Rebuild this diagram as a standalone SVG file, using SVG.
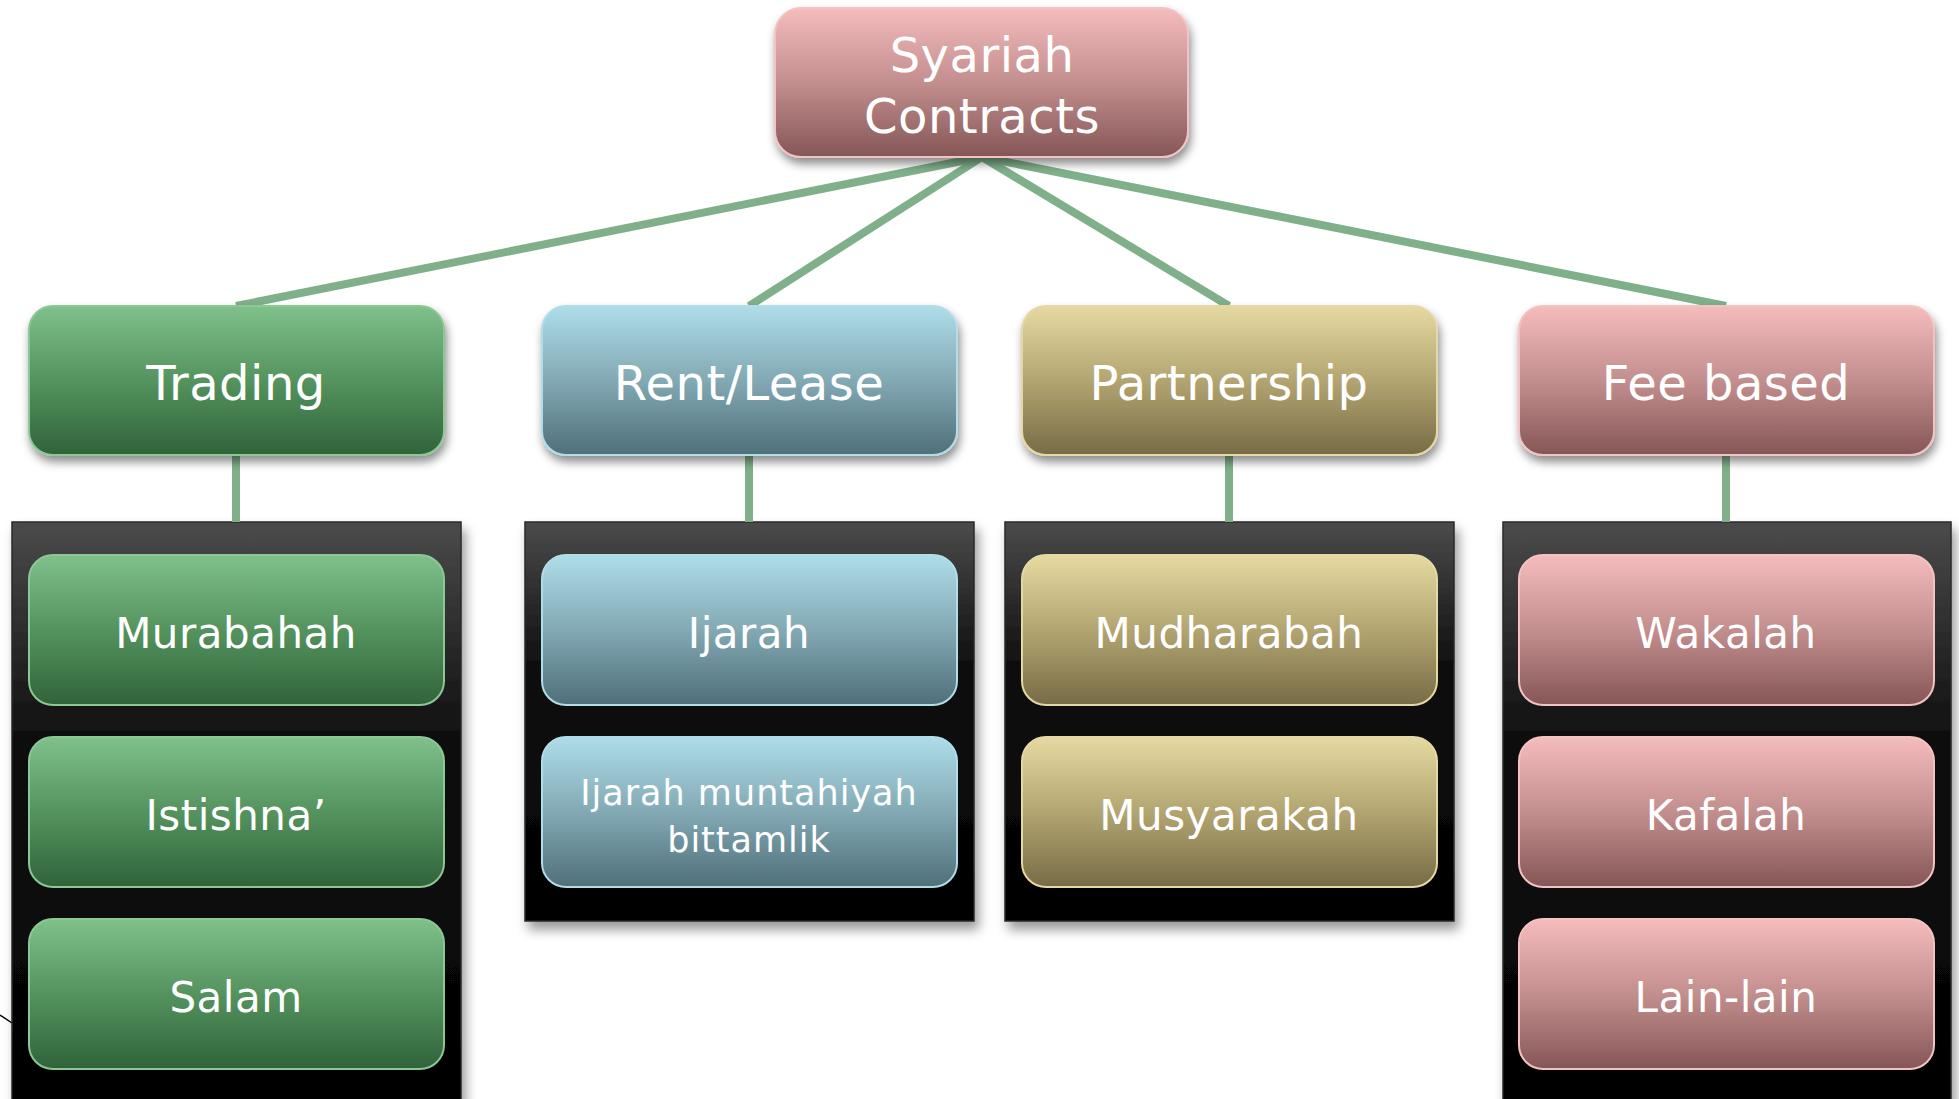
<svg xmlns="http://www.w3.org/2000/svg" width="1959" height="1099" viewBox="0 0 1959 1099">
<defs>
<linearGradient id="gPink" x1="0" y1="0" x2="0" y2="1"><stop offset="0" stop-color="#f5bcbc"/><stop offset="0.5" stop-color="#c38e8e"/><stop offset="1" stop-color="#855656"/></linearGradient>
<linearGradient id="gGreen" x1="0" y1="0" x2="0" y2="1"><stop offset="0" stop-color="#80c08a"/><stop offset="0.5" stop-color="#54935e"/><stop offset="1" stop-color="#30633a"/></linearGradient>
<linearGradient id="gBlue" x1="0" y1="0" x2="0" y2="1"><stop offset="0" stop-color="#aedde9"/><stop offset="0.5" stop-color="#82a9b4"/><stop offset="1" stop-color="#4f6f79"/></linearGradient>
<linearGradient id="gGold" x1="0" y1="0" x2="0" y2="1"><stop offset="0" stop-color="#e6d9a1"/><stop offset="0.5" stop-color="#b3a571"/><stop offset="1" stop-color="#776b46"/></linearGradient>
<linearGradient id="gPanel" x1="0" y1="0" x2="0" y2="1"><stop offset="0" stop-color="#4b4b4b"/><stop offset="0.35" stop-color="#111111"/><stop offset="1" stop-color="#000000"/></linearGradient>
<filter id="sh" x="-10%" y="-10%" width="125%" height="135%"><feDropShadow dx="2" dy="6" stdDeviation="5" flood-color="#000" flood-opacity="0.45"/></filter>
<filter id="shP" x="-10%" y="-10%" width="125%" height="125%"><feDropShadow dx="4" dy="8" stdDeviation="6" flood-color="#000" flood-opacity="0.4"/></filter>
</defs>
<style>
.lbl{font-family:"DejaVu Sans","Verdana",sans-serif;fill:#ffffff;text-anchor:middle;letter-spacing:0.5px}
.big{font-size:48px}
.mid{font-size:42px}
.sm{font-size:35px;letter-spacing:1px}
.pink{fill:url(#gPink);stroke:#f3c3c3;stroke-width:2}
.green{fill:url(#gGreen);stroke:#8cc796;stroke-width:2}
.blue{fill:url(#gBlue);stroke:#b0dde8;stroke-width:2}
.gold{fill:url(#gGold);stroke:#e4d9a4;stroke-width:2}
.panel{fill:url(#gPanel);stroke:#2a2a2a;stroke-width:1.5}
.con{stroke:#80b08a;stroke-width:8;fill:none}
</style>
<rect width="1959" height="1099" fill="#ffffff"/>
<line x1="0" y1="1015" x2="12" y2="1023" stroke="#000" stroke-width="1.5"/>
<g id="panels">
<rect id="panel-trading" class="panel" x="12" y="522" width="449" height="600" filter="url(#shP)"/>
<rect id="panel-rent" class="panel" x="525" y="522" width="449" height="399" filter="url(#shP)"/>
<rect id="panel-partnership" class="panel" x="1005" y="522" width="449" height="399" filter="url(#shP)"/>
<rect id="panel-fee" class="panel" x="1503" y="522" width="448" height="600" filter="url(#shP)"/>
</g>
<g id="connectors">
<line class="con" x1="982" y1="157" x2="236" y2="306"/>
<line class="con" x1="982" y1="157" x2="749" y2="306"/>
<line class="con" x1="982" y1="157" x2="1229" y2="306"/>
<line class="con" x1="982" y1="157" x2="1726" y2="306"/>
<line class="con" x1="236" y1="455" x2="236" y2="522"/>
<line class="con" x1="749" y1="455" x2="749" y2="522"/>
<line class="con" x1="1229" y1="455" x2="1229" y2="522"/>
<line class="con" x1="1726" y1="455" x2="1726" y2="522"/>
</g>
<g id="root">
<rect class="pink" x="775" y="8" width="413" height="149" rx="26" filter="url(#sh)"/>
<text class="lbl big" x="982" y="72">Syariah</text>
<text class="lbl big" x="982" y="133">Contracts</text>
</g>
<g id="trading">
<rect class="green" x="29" y="306" width="415" height="149" rx="24" filter="url(#sh)"/>
<text class="lbl big" x="236" y="400">Trading</text>
</g>
<g id="rent">
<rect class="blue" x="542" y="306" width="415" height="149" rx="24" filter="url(#sh)"/>
<text class="lbl big" x="749" y="400">Rent/Lease</text>
</g>
<g id="partnership">
<rect class="gold" x="1022" y="306" width="415" height="149" rx="24" filter="url(#sh)"/>
<text class="lbl big" x="1229" y="400">Partnership</text>
</g>
<g id="fee">
<rect class="pink" x="1519" y="306" width="415" height="149" rx="24" filter="url(#sh)"/>
<text class="lbl big" x="1726" y="400">Fee based</text>
</g>
<g id="murabahah">
<rect class="green" x="29" y="555" width="415" height="150" rx="24"/>
<text class="lbl mid" x="236" y="648">Murabahah</text>
</g>
<g id="istishna">
<rect class="green" x="29" y="737" width="415" height="150" rx="24"/>
<text class="lbl mid" x="236" y="830">Istishna’</text>
</g>
<g id="salam">
<rect class="green" x="29" y="919" width="415" height="150" rx="24"/>
<text class="lbl mid" x="236" y="1012">Salam</text>
</g>
<g id="ijarah">
<rect class="blue" x="542" y="555" width="415" height="150" rx="24"/>
<text class="lbl mid" x="749" y="648">Ijarah</text>
</g>
<g id="ijarah-mb">
<rect class="blue" x="542" y="737" width="415" height="150" rx="24"/>
<text class="lbl sm" x="749" y="805">Ijarah muntahiyah</text>
<text class="lbl sm" x="749" y="852">bittamlik</text>
</g>
<g id="mudharabah">
<rect class="gold" x="1022" y="555" width="415" height="150" rx="24"/>
<text class="lbl mid" x="1229" y="648">Mudharabah</text>
</g>
<g id="musyarakah">
<rect class="gold" x="1022" y="737" width="415" height="150" rx="24"/>
<text class="lbl mid" x="1229" y="830">Musyarakah</text>
</g>
<g id="wakalah">
<rect class="pink" x="1519" y="555" width="415" height="150" rx="24"/>
<text class="lbl mid" x="1726" y="648">Wakalah</text>
</g>
<g id="kafalah">
<rect class="pink" x="1519" y="737" width="415" height="150" rx="24"/>
<text class="lbl mid" x="1726" y="830">Kafalah</text>
</g>
<g id="lainlain">
<rect class="pink" x="1519" y="919" width="415" height="150" rx="24"/>
<text class="lbl mid" x="1726" y="1012">Lain-lain</text>
</g>
</svg>
